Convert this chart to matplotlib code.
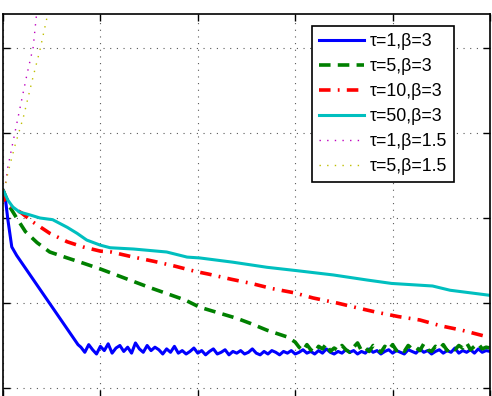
import matplotlib
matplotlib.use("Agg")
import matplotlib.pyplot as plt

plt.rcParams['font.family'] = ['Liberation Sans', 'DejaVu Sans']

# ---- data (iteration, value) ----
blue_iter = [0, 2, 5, 9, 14, 77] + list(range(80, 501, 4))
blue_val = [2.33, 2.27, 1.98, 1.66, 1.56, 0.51,
            0.48, 0.42, 0.51, 0.45, 0.40, 0.49, 0.44, 0.52, 0.41, 0.47,
            0.50, 0.43, 0.48, 0.41, 0.53, 0.46, 0.42, 0.50, 0.44, 0.48,
            0.45, 0.40, 0.46, 0.42, 0.49, 0.41, 0.44, 0.40, 0.43, 0.47,
            0.41, 0.44, 0.39, 0.43, 0.46, 0.40, 0.42, 0.45, 0.39, 0.43,
            0.41, 0.44, 0.40, 0.42, 0.46, 0.41, 0.39, 0.43, 0.40, 0.44,
            0.42, 0.39, 0.43, 0.41, 0.44, 0.40, 0.42, 0.45, 0.41, 0.43,
            0.40, 0.44, 0.41, 0.46, 0.42, 0.40, 0.43, 0.41, 0.45, 0.42,
            0.44, 0.40, 0.43, 0.41, 0.46, 0.42, 0.44, 0.40, 0.43, 0.45,
            0.41, 0.44, 0.42, 0.40, 0.45, 0.43, 0.41, 0.46, 0.42, 0.44,
            0.40, 0.43, 0.45, 0.41, 0.44, 0.42, 0.47, 0.41, 0.44, 0.42,
            0.45, 0.41, 0.46, 0.42, 0.44, 0.43]

green_iter = [0, 7, 14, 23, 35, 48, 66, 82, 100, 151, 187, 202, 240, 254, 271, 292, 300] + list(range(304, 501, 4))
green_val = [2.33, 2.13, 2.00, 1.84, 1.71, 1.60, 1.53, 1.47, 1.40, 1.18, 1.035, 0.95, 0.82, 0.76, 0.68, 0.60, 0.54,
             0.48, 0.44, 0.51, 0.45, 0.42, 0.49, 0.46, 0.52, 0.43, 0.47,
             0.44, 0.50, 0.45, 0.42, 0.48, 0.53, 0.44, 0.47, 0.43, 0.50,
             0.46, 0.42, 0.49, 0.45, 0.51, 0.44, 0.47, 0.43, 0.50, 0.46,
             0.48, 0.44, 0.52, 0.45, 0.43, 0.49, 0.46, 0.51, 0.44, 0.48,
             0.45, 0.50, 0.47, 0.53, 0.45, 0.49, 0.52, 0.46, 0.48, 0.47]

red_iter = [0, 2, 10, 19, 31, 48, 66, 82, 100, 111, 132, 155, 176, 198, 211, 234, 255, 276, 299,
            318, 343, 363, 384, 406, 428, 450, 471, 493, 500]
red_val = [2.33, 2.21, 2.12, 2.06, 1.95, 1.82, 1.72, 1.66, 1.61, 1.60, 1.545, 1.49, 1.435, 1.37, 1.34, 1.28,
           1.23, 1.17, 1.12, 1.06, 1.00, 0.945, 0.89, 0.84, 0.80, 0.73, 0.68, 0.615, 0.60]

cyan_iter = [0, 5, 10, 17, 28, 38, 51, 66, 76, 86, 100, 110, 134, 168, 189, 202, 236, 271, 302,
             339, 374, 399, 441, 459, 500]
cyan_val = [2.33, 2.21, 2.13, 2.07, 2.035, 2.00, 1.98, 1.89, 1.82, 1.74, 1.68, 1.65, 1.635, 1.60, 1.54,
            1.53, 1.48, 1.42, 1.38, 1.33, 1.27, 1.23, 1.20, 1.15, 1.09]

mag_iter = [0, 2, 5, 10, 17, 25, 31, 34, 40]
mag_val = [2.33, 2.36, 2.60, 2.88, 3.27, 3.71, 4.01, 4.35, 4.90]

yel_iter = [0, 2, 5, 12, 21, 30, 38, 45, 52]
yel_val = [2.33, 2.36, 2.53, 2.84, 3.19, 3.62, 3.98, 4.35, 4.75]

labels = ['τ=1,β=3', 'τ=5,β=3', 'τ=10,β=3', 'τ=50,β=3', 'τ=1,β=1.5', 'τ=5,β=1.5']

xticks = [0, 100, 200, 300, 400, 500]
yticks = [0, 1, 2, 3, 4]

fig = plt.figure(figsize=(4.92, 3.96), dpi=100)
ax = fig.add_axes([3/492, -1/396, 487/492, 383/396])

ax.plot(blue_iter, blue_val, color=(0, 0, 1), lw=2.2, label=labels[0])
ax.plot(green_iter, green_val, color=(0, 0.5, 0), lw=2.6, ls=(0, (3.2, 2.0)), label=labels[1])
ax.plot(red_iter, red_val, color=(1, 0, 0), lw=2.6, ls=(0, (3.2, 2.0, 0.5, 2.0)), label=labels[2])
ax.plot(cyan_iter, cyan_val, color=(0, 0.75, 0.75), lw=2.2, label=labels[3])
ax.plot(mag_iter, mag_val, color=(0.75, 0, 0.75), lw=1.0, ls=(0, (1, 4.5)), label=labels[4])
ax.plot(yel_iter, yel_val, color=(0.75, 0.75, 0), lw=1.0, ls=(0, (1, 4.5)), label=labels[5])

ax.set_xlim(0, 500)
ax.set_ylim(-0.106, 4.4)
ax.set_xticks(xticks)
ax.set_yticks(yticks)
ax.set_xticklabels([])
ax.set_yticklabels([])
ax.tick_params(direction='in', length=5, width=1, top=True, right=True)
ax.grid(True, color='0.35', ls=(0, (1, 5)), lw=0.8)
for s in ax.spines.values():
    s.set_linewidth(1.2)

leg = ax.legend(loc='upper right', bbox_to_anchor=(0.927, 0.969), borderaxespad=0,
                fontsize=12.8, handlelength=2.5, handletextpad=0.35, labelspacing=0.45,
                fancybox=False, framealpha=1, edgecolor='black', borderpad=0.4)
leg.get_frame().set_linewidth(1.2)

fig.savefig('out.png', dpi=100)
